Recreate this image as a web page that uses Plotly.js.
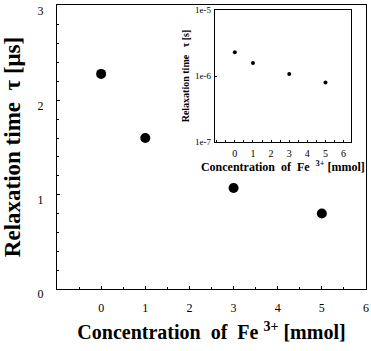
<!DOCTYPE html>
<html><head><meta charset="utf-8">
<script src="https://cdn.plot.ly/plotly-3.0.1.min.js"></script>
<style>html,body{margin:0;padding:0;background:#fff}</style>
</head><body><div id="chart" style="width:371px;height:351px"></div>
<script>
const concentration = [0, 1, 3, 5];
const tauMicro = [2.28, 1.6, 1.07, 0.8];
const tauSeconds = [2.3e-6, 1.58e-6, 1.07e-6, 0.8e-6];
const mainXTicks = [0, 1, 2, 3, 4, 5, 6];
const mainYTicks = [0, 1, 2, 3];
const insetYTickVals = [1e-7, 1e-6, 1e-5];
const insetYTickText = ['1e-7', '1e-6', '1e-5'];

const serif = 'Liberation Serif, Times New Roman, serif';
const traces = [
  {x: concentration, y: tauMicro, type: 'scatter', mode: 'markers',
   marker: {color: '#000', size: 10}, xaxis: 'x', yaxis: 'y', hoverinfo: 'none'},
  {x: concentration, y: tauSeconds, type: 'scatter', mode: 'markers',
   marker: {color: '#000', size: 4}, xaxis: 'x2', yaxis: 'y2', hoverinfo: 'none'}
];
const layout = {
  width: 371, height: 351,
  margin: {l: 57, r: 5, t: 5, b: 62},
  paper_bgcolor: '#fff', plot_bgcolor: '#fff',
  showlegend: false,
  font: {family: serif, color: '#000'},
  xaxis: {range: [-1, 6], tickvals: mainXTicks, showgrid: false, zeroline: false,
    showline: true, mirror: true, linecolor: '#000', linewidth: 1,
    ticks: 'inside', ticklen: 3, tickcolor: '#000',
    minor: {dtick: 0.5, ticks: 'inside', ticklen: 2, tickcolor: '#000'},
    tickfont: {size: 12, family: serif}, ticklabelstandoff: 8,
    title: {text: '<b>Concentration  of  Fe <sup>3+</sup> [mmol]</b>', font: {size: 20, family: serif}, standoff: 10}},
  yaxis: {range: [0, 3.01], tickvals: mainYTicks, showgrid: false, zeroline: false,
    showline: true, mirror: true, linecolor: '#000', linewidth: 1,
    ticks: 'inside', ticklen: 3, tickcolor: '#000',
    minor: {dtick: 0.2, ticks: 'inside', ticklen: 2, tickcolor: '#000'},
    tickfont: {size: 12, family: serif}, ticklabelstandoff: 10, ticklabelshift: 5,
    ticklabeloverflow: 'allow',
    title: {text: '<b>Relaxation time  τ [μs]</b>', font: {size: 23, family: serif}, standoff: 12}},
  xaxis2: {domain: [0.511, 0.951], anchor: 'y2', range: [-1.1, 6.4], tickvals: mainXTicks,
    showgrid: false, zeroline: false, showline: true, mirror: true, linecolor: '#000', linewidth: 1,
    ticks: 'inside', ticklen: 2, tickcolor: '#000',
    minor: {dtick: 0.5, ticks: 'inside', ticklen: 1.5, tickcolor: '#000'},
    tickfont: {size: 10, family: serif}, ticklabelstandoff: 2,
    title: {text: '<b>Concentration  of  Fe  <sup>3+</sup> [mmol]</b>', font: {size: 12, family: serif}, standoff: 2}},
  yaxis2: {domain: [0.518, 0.982], anchor: 'x2', type: 'log', range: [-7, -5],
    tickvals: insetYTickVals, ticktext: insetYTickText,
    showgrid: false, zeroline: false, showline: true, mirror: true, linecolor: '#000', linewidth: 1,
    ticks: 'inside', ticklen: 2, tickcolor: '#000',
    tickfont: {size: 9, family: serif}, ticklabelstandoff: 1,
    title: {text: '<b>Relaxation time   τ [s]</b>', font: {size: 10, family: serif}, standoff: 3}}
};
Plotly.newPlot('chart', traces, layout, {staticPlot: true, displayModeBar: false});
</script></body></html>
